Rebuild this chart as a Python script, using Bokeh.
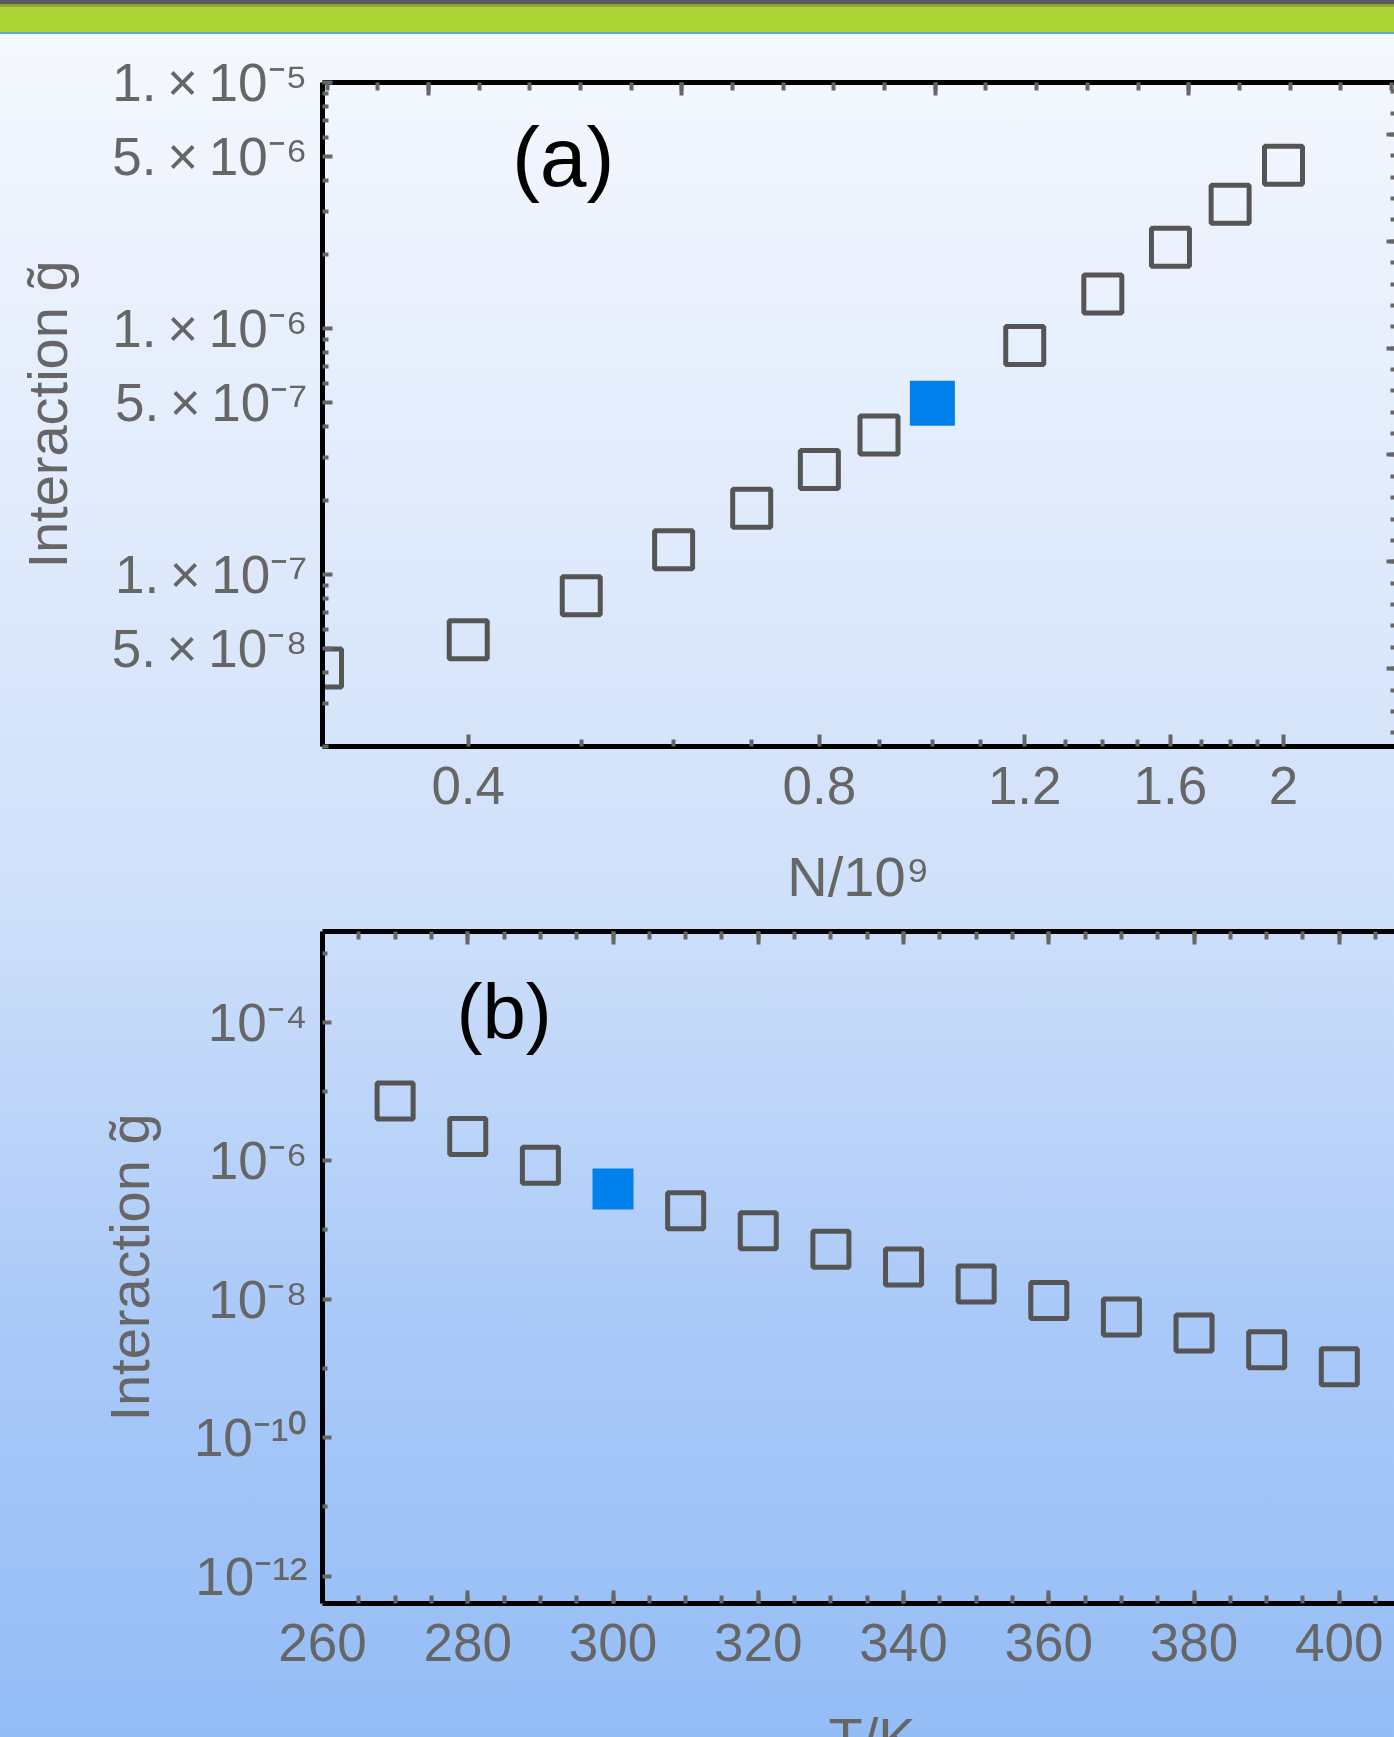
from bokeh.plotting import figure
from bokeh.models import (Range1d, FixedTicker, SingleIntervalTicker, LinearAxis,
                          LinearScale, Label, Div)
from bokeh.layouts import column
from bokeh.embed import file_html
from bokeh.resources import INLINE

# ---------------- data ----------------
# panel (a): interaction vs atom number N (in units of 1e9)
n_values = [0.3, 0.4, 0.5, 0.6, 0.7, 0.8, 0.9, 1.2, 1.4, 1.6, 1.8, 2.0]
g_vs_n = [4.17e-8, 5.43e-8, 8.19e-8, 1.26e-7, 1.86e-7, 2.67e-7, 3.69e-7,
          8.53e-7, 1.38e-6, 2.14e-6, 3.20e-6, 4.61e-6]
n_highlight = [1.0]
g_n_highlight = [4.97e-7]

# panel (b): interaction vs temperature T (K)
t_values = [270, 280, 290, 310, 320, 330, 340, 350, 360, 370, 380, 390, 400]
g_vs_t = [7.26e-6, 2.24e-6, 8.63e-7, 1.89e-7, 9.77e-8, 5.25e-8, 2.92e-8,
          1.65e-8, 9.58e-9, 5.53e-9, 3.25e-9, 1.86e-9, 1.06e-9]
t_highlight = [300]
g_t_highlight = [3.91e-7]

# tick values and labels
a_x_ticks = [0.4, 0.8, 1.2, 1.6, 2.0]
a_x_labels = ["0.4", "0.8", "1.2", "1.6", "2"]
a_x_minor = [0.3, 0.5, 0.6, 0.7, 0.9, 1.0, 1.1, 1.3, 1.4, 1.5, 1.7, 1.8, 1.9]
a_y_ticks = [5e-8, 1e-7, 5e-7, 1e-6, 5e-6, 1e-5]
a_y_labels = ["5.\u2009×\u200910⁻⁸", "1.\u2009×\u200910⁻⁷", "5.\u2009×\u200910⁻⁷",
              "1.\u2009×\u200910⁻⁶", "5.\u2009×\u200910⁻⁶", "1.\u2009×\u200910⁻⁵"]
a_y_minor = [m * 10.0 ** e for e in (-8, -7, -6) for m in range(2, 10) if m != 5]

b_y_ticks = [1e-12, 1e-10, 1e-8, 1e-6, 1e-4]
b_y_labels = ["10⁻¹²", "10⁻¹⁰", "10⁻⁸", "10⁻⁶", "10⁻⁴"]
b_y_minor = [1e-11, 1e-9, 1e-7, 1e-5, 1e-3]

# ---------------- styling ----------------
FONT = "Liberation Sans"
GRAY = "#666666"
TICK = "#666666"
EDGE = "#555555"
BLUE = "#0080ea"
W = 1394
HA = 924
HB = 776
HD = 37


def make_fig(h, xr, yr, xtype, mbl, mbt, mbb):
    p = figure(width=W, height=h, x_axis_type=xtype, y_axis_type="log",
               x_range=xr, y_range=yr, output_backend="svg",
               toolbar_location=None,
               min_border_left=mbl, min_border_right=0,
               min_border_top=mbt, min_border_bottom=mbb)
    p.background_fill_alpha = 0
    p.border_fill_alpha = 0
    p.outline_line_color = None
    p.grid.visible = False
    return p


def style(ax, major_in, minor_in, labels=True, line=True):
    ax.axis_line_color = "black" if line else None
    ax.axis_line_width = 5
    ax.major_tick_line_color = TICK
    ax.minor_tick_line_color = TICK
    ax.major_tick_line_width = 4
    ax.minor_tick_line_width = 4
    ax.major_tick_in = major_in
    ax.major_tick_out = 0
    ax.minor_tick_in = minor_in
    ax.minor_tick_out = 0
    ax.major_label_text_font = FONT
    if labels:
        ax.major_label_text_color = GRAY
        ax.major_label_text_font_size = "53px"
    else:
        ax.major_label_text_color = None
        ax.major_label_text_font_size = "0px"
        ax.major_label_standoff = 0
    ax.axis_label_text_font = FONT
    ax.axis_label_text_font_size = "56px"
    ax.axis_label_text_font_style = "normal"
    ax.axis_label_text_color = GRAY


# ---------------- panel (a) ----------------
pa = make_fig(HA, Range1d(0.3, 2.49), Range1d(2e-8, 1e-5), "log", 321, 82, 178)

xa = pa.xaxis[0]
xa.ticker = FixedTicker(ticks=a_x_ticks, minor_ticks=a_x_minor)
xa.major_label_overrides = dict(zip(a_x_ticks, a_x_labels))
style(xa, 12, 7)
xa.major_label_standoff = 20
xa.axis_label = "N/10⁹"
xa.axis_label_standoff = 38

ya = pa.yaxis[0]
ya.ticker = FixedTicker(ticks=a_y_ticks, minor_ticks=a_y_minor)
ya.major_label_overrides = dict(zip(a_y_ticks, a_y_labels))
style(ya, 10, 6)
ya.major_label_standoff = 15
ya.axis_label = "Interaction g̃"
ya.axis_label_standoff = 30

# mirrored frame ticks (evenly spaced, as in the original frame)
pa.extra_x_ranges = {"top": Range1d(-2.09, 19.06)}
pa.extra_x_scales = {"top": LinearScale()}
pa.extra_y_ranges = {"right": Range1d(-28.64, 2.43)}
pa.extra_y_scales = {"right": LinearScale()}
top_a = LinearAxis(x_range_name="top",
                   ticker=SingleIntervalTicker(interval=5, num_minor_ticks=5))
style(top_a, 13, 8, labels=False)
pa.add_layout(top_a, "above")
right_a = LinearAxis(y_range_name="right",
                     ticker=SingleIntervalTicker(interval=5, num_minor_ticks=5))
style(right_a, 8, 4, labels=False, line=False)
pa.add_layout(right_a, "right")

pa.scatter(n_values, g_vs_n, marker="square", size=38, fill_color=None,
           line_color=EDGE, line_width=5)
pa.scatter(n_highlight, g_n_highlight, marker="square", size=45,
           fill_color=BLUE, line_color=None)
pa.add_layout(Label(x=0.436, y=5.0e-6, text="(a)", text_font=FONT,
                    text_font_size="84px", text_color="black",
                    text_align="left", text_baseline="alphabetic"))

# ---------------- panel (b) ----------------
pb = make_fig(HB, Range1d(260, 407.6), Range1d(10 ** -12.396, 10 ** -2.689),
              "linear", 322, 7, 97)

xb = pb.xaxis[0]
xb.ticker = SingleIntervalTicker(interval=20, num_minor_ticks=4)
style(xb, 13, 8)
xb.major_label_standoff = 20

yb = pb.yaxis[0]
yb.ticker = FixedTicker(ticks=b_y_ticks, minor_ticks=b_y_minor)
yb.major_label_overrides = dict(zip(b_y_ticks, b_y_labels))
style(yb, 9, 5)
yb.major_label_standoff = 15
yb.axis_label = "Interaction g̃"
yb.axis_label_standoff = 30

top_b = LinearAxis(ticker=SingleIntervalTicker(interval=20, num_minor_ticks=4))
style(top_b, 13, 8, labels=False)
pb.add_layout(top_b, "above")

pb.scatter(t_values, g_vs_t, marker="square", size=36, fill_color=None,
           line_color=EDGE, line_width=5)
pb.scatter(t_highlight, g_t_highlight, marker="square", size=41,
           fill_color=BLUE, line_color=None)
pb.add_layout(Label(x=278.45, y=1.43e-4, text="(b)", text_font=FONT,
                    text_font_size="78px", text_color="black",
                    text_align="left", text_baseline="alphabetic"))

# x-axis title of panel (b); the original slide cuts it at the bottom edge
xlabel_b = Div(
    text=('<div style="position:relative; left:170px; width:1394px; '
          'text-align:center; font-family:\'Liberation Sans\'; font-size:56px; '
          'line-height:56px; padding-top:5px; color:#666666;">T/K</div>'),
    width=W, height=HD, styles={"overflow": "hidden"})

bg = ("linear-gradient(to bottom, #5a5a5a 0px, #5a5a5a 4px, #8fa53a 4px, "
      "#8fa53a 7px, #acd434 7px, #acd434 32px, #5ba8f0 32px, #5ba8f0 34px, "
      "#f5f8fe 34px, #cfe0fa 900px, #aac9f8 1320px, #94bdf6 1737px)")
layout = column(pa, pb, xlabel_b, spacing=0, styles={"background": bg})

open("out.html", "w").write(file_html(layout, INLINE, "Interaction"))
